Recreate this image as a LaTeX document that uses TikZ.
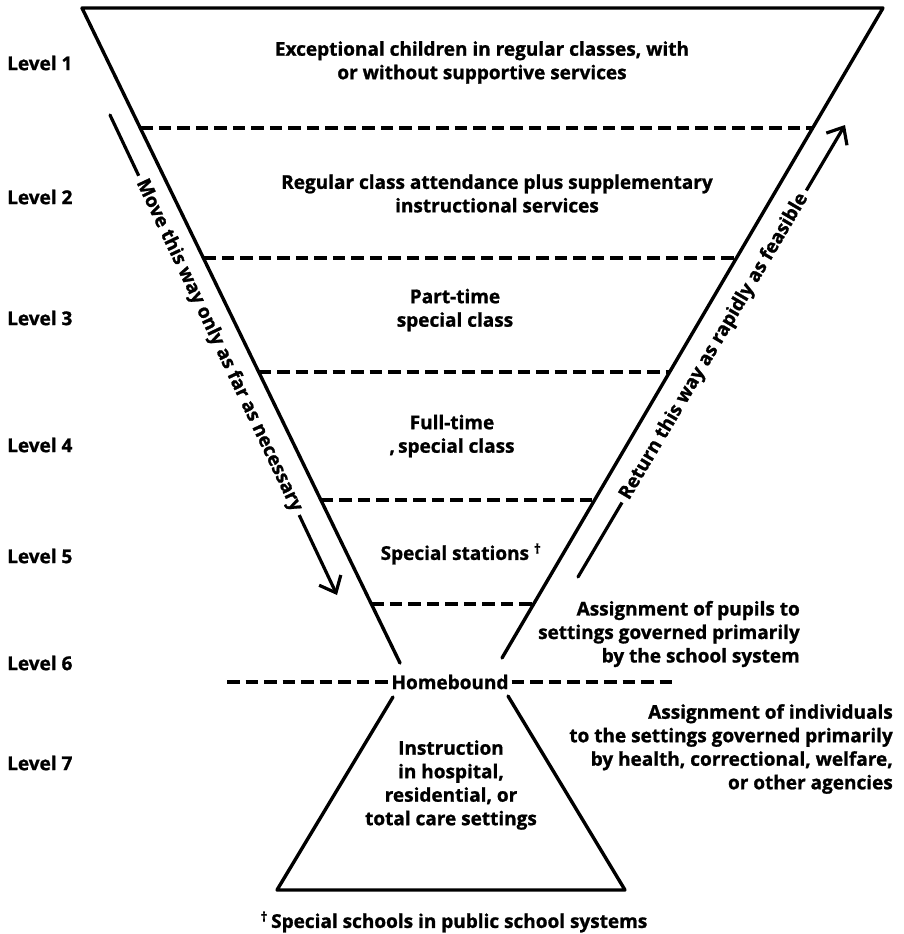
\documentclass[tikz,border=0pt]{standalone}
\usepackage{fontspec}
\setmainfont{Open Sans}[BoldFeatures={FakeBold=1.2}]
\usetikzlibrary{arrows.meta,calc}
\begin{document}
\begin{tikzpicture}[x=1pt,y=-1pt,
  txt/.style={font=\fontsize{19}{23.5}\selectfont\bfseries, align=center, inner sep=0pt},
  solidline/.style={line width=3.4pt, line join=round, line cap=round},
  dashline/.style={line width=3.4pt, dash pattern=on 12.5pt off 6pt},
  flow/.style={line width=3.2pt, line cap=round, -{Straight Barb[length=14pt,width=24pt,line width=3.2pt]}},
  along/.style={txt, fill=white, inner sep=5pt, sloped}]
\useasboundingbox (0,0) rectangle (903,934);
% level labels
\node[txt, anchor=west] (l1) at (7,63)  {Level 1};
\node[txt, anchor=west] (l2) at (7,197) {Level 2};
\node[txt, anchor=west] (l3) at (7,318) {Level 3};
\node[txt, anchor=west] (l4) at (7,445) {Level 4};
\node[txt, anchor=west] (l5) at (7,556) {Level 5};
\node[txt, anchor=west] (l6) at (7,663) {Level 6};
\node[txt, anchor=west] (l7) at (7,763) {Level 7};
% direction arrows
\coordinate (ms) at (110,115);
\coordinate (me) at (337,595);
\draw[flow] (ms) -- node[along, pos=0.48] (mt) {Move this way only as far as necessary} (me);
\coordinate (rs) at (578,577);
\coordinate (re) at (845,125);
\draw[flow] (rs) -- node[along, pos=0.51] (rt) {Return this way as rapidly as feasible} (re);
% funnel
\coordinate (TL) at (82,8);
\coordinate (TR) at (883,8);
\coordinate (BL) at (400,663);
\coordinate (BR) at (502,658);
\draw[solidline] (BL) -- (TL) -- (TR) -- (BR);
\foreach \y/\l/\r in {128/140.3/812.7, 258/203.4/736.4, 372/258.7/669.6, 500/320.9/594.6, 604/371.4/533.6}
  \draw[dashline] (\l,\y) -- (\r,\y);
% level contents
\node[txt] (t1) at (482,62.5) {Exceptional children in regular classes, with\\or without supportive services};
\node[txt] (t2) at (497,193.5) {Regular class attendance plus supplementary\\instructional services};
\node[txt] (t3) at (455,310) {Part-time\\special class};
\node[txt] (t4) at (452,436) {Full-time\\,\,special class};
\node[txt] (t5) at (461,554) {Special stations \textsuperscript{†}};
% homebound
\node[txt, inner xsep=3pt] (hb) at (450,682) {Homebound};
\coordinate (hl) at (227,682);
\coordinate (hr) at (678,682);
\draw[dashline] (hl) -- (hb.west);
\draw[dashline] (hb.east) -- (hr);
% lower trapezoid
\coordinate (LT1) at (393,697);
\coordinate (LB1) at (277,890);
\coordinate (LB2) at (625,890);
\coordinate (LT2) at (508,696);
\draw[solidline] (LT1) -- (LB1) -- (LB2) -- (LT2);
\node[txt] (t7) at (451,785) {Instruction\\in hospital,\\residential, or\\total care settings};
% side notes
\node[txt, align=right, anchor=east] (r1) at (800,634) {Assignment of pupils to\\settings governed primarily\\by the school system};
\node[txt, align=right, anchor=east] (r2) at (893,749) {Assignment of individuals\\to the settings governed primarily\\by health, correctional, welfare,\\or other agencies};
% footnote
\node[txt] (fn) at (454,922) {\textsuperscript{†}\,Special schools in public school systems};
\end{tikzpicture}
\end{document}
